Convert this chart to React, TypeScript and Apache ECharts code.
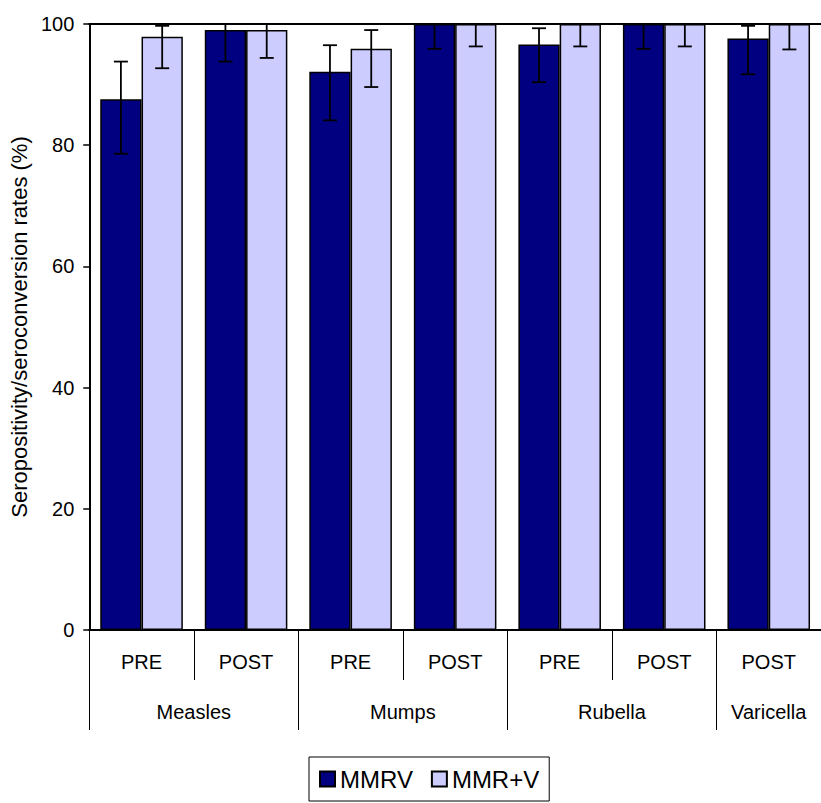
import React, { useEffect, useRef } from "react";
import * as echarts from "echarts";

const phases = ["PRE", "POST", "PRE", "POST", "PRE", "POST", "POST"];
const diseases = ["Measles", "Mumps", "Rubella", "Varicella"];
const diseasePositions = [1, 3, 5, 6.5];
const diseaseBoundaries = [0, 2, 4, 6];

const mmrv = [87.6, 99.0, 92.1, 100, 96.6, 100, 97.6];
const mmrvLow = [78.6, 93.8, 84.1, 95.9, 90.4, 95.9, 91.7];
const mmrvHigh = [93.8, 100, 96.5, 100, 99.3, 100, 99.7];

const mmrV = [97.9, 99.0, 95.9, 100, 100, 100, 100];
const mmrVLow = [92.7, 94.4, 89.6, 96.3, 96.3, 96.3, 95.8];
const mmrVHigh = [99.7, 100, 99.0, 100, 100, 100, 100];

const yTicks = [0, 20, 40, 60, 80, 100];

const FONT = "'Liberation Sans', Arial, sans-serif";

function errorRenderer(offsetFrac: number) {
  return (params: any, api: any) => {
    const x = api.value(0);
    const lo = api.value(1);
    const hi = api.value(2);
    const pLo = api.coord([x, lo]);
    const pHi = api.coord([x, hi]);
    const cw = api.size([1, 0])[0];
    const cx = pLo[0] + offsetFrac * cw;
    const cap = 7;
    const style = { stroke: "#000", lineWidth: 1.8 };
    return {
      type: "group",
      children: [
        { type: "line", shape: { x1: cx, y1: pLo[1], x2: cx, y2: pHi[1] }, style },
        { type: "line", shape: { x1: cx - cap, y1: pLo[1], x2: cx + cap, y2: pLo[1] }, style },
        { type: "line", shape: { x1: cx - cap, y1: pHi[1], x2: cx + cap, y2: pHi[1] }, style },
      ],
    };
  };
}

export default function App() {
  const ref = useRef<HTMLDivElement>(null);
  useEffect(() => {
    if (!ref.current) return;
    const chart = echarts.init(ref.current, null, { renderer: "svg" });
    const option: any = {
      animation: false,
      backgroundColor: "#fff",
      textStyle: { fontFamily: FONT, color: "#000" },
      grid: { left: 88, right: 0, top: 24, bottom: 173 },
      legend: {
        left: 309,
        top: 757,
        orient: "horizontal",
        icon: "rect",
        itemWidth: 15,
        itemHeight: 15,
        itemGap: 18,
        padding: [10, 10, 10, 10],
        borderColor: "#000",
        borderWidth: 1,
        textStyle: { fontSize: 24, color: "#000", fontFamily: FONT },
        data: ["MMRV", "MMR+V"],
      },
      xAxis: [
        {
          type: "category",
          data: phases,
          position: "bottom",
          axisLine: { show: true, lineStyle: { color: "#000", width: 2 } },
          axisTick: { show: true, length: 50, lineStyle: { color: "#000", width: 1 } },
          axisLabel: { fontSize: 20, color: "#000", margin: 22, fontFamily: FONT },
          splitLine: { show: false },
        },
        {
          type: "value",
          min: 0,
          max: 7,
          position: "bottom",
          offset: 0,
          axisLine: { show: false },
          axisTick: {
            show: true,
            length: 100,
            customValues: diseaseBoundaries,
            lineStyle: { color: "#000", width: 1 },
          },
          axisLabel: {
            show: true,
            customValues: diseasePositions,
            fontSize: 20,
            color: "#000",
            margin: 72,
            fontFamily: FONT,
            formatter: (v: number) => {
              const i = diseasePositions.indexOf(v);
              return i >= 0 ? diseases[i] : "";
            },
          },
          splitLine: { show: false },
        },
        {
          type: "category",
          data: phases,
          position: "top",
          axisLine: { show: true, lineStyle: { color: "#000", width: 2 } },
          axisTick: { show: false },
          axisLabel: { show: false },
          splitLine: { show: false },
        },
      ],
      yAxis: {
        type: "value",
        min: yTicks[0],
        max: yTicks[yTicks.length - 1],
        interval: 20,
        name: "Seropositivity/seroconversion rates (%)",
        nameLocation: "middle",
        nameGap: 52,
        nameTextStyle: { fontSize: 22, color: "#000", fontFamily: FONT },
        axisLine: { show: true, lineStyle: { color: "#000", width: 2 } },
        axisTick: { show: true, length: 6, lineStyle: { color: "#000", width: 1.5 } },
        axisLabel: { fontSize: 20, color: "#000", margin: 15, fontFamily: FONT },
        splitLine: { show: false },
      },
      series: [
        {
          name: "MMRV",
          type: "bar",
          xAxisIndex: 0,
          data: mmrv,
          barGap: "0%",
          barCategoryGap: "21%",
          itemStyle: { color: "#000080", borderColor: "#000", borderWidth: 1.5 },
        },
        {
          name: "MMR+V",
          type: "bar",
          xAxisIndex: 0,
          data: mmrV,
          barGap: "0%",
          barCategoryGap: "21%",
          itemStyle: { color: "#CCCCFF", borderColor: "#000", borderWidth: 1.5 },
        },
        {
          type: "custom",
          xAxisIndex: 0,
          renderItem: errorRenderer(-0.1975),
          data: phases.map((_, i) => [i, mmrvLow[i], mmrvHigh[i]]),
          encode: { x: 0, y: [1, 2] },
          z: 10,
          silent: true,
        },
        {
          type: "custom",
          xAxisIndex: 0,
          renderItem: errorRenderer(0.1975),
          data: phases.map((_, i) => [i, mmrVLow[i], mmrVHigh[i]]),
          encode: { x: 0, y: [1, 2] },
          z: 10,
          silent: true,
        },
      ],
    };
    chart.setOption(option);
    return () => chart.dispose();
  }, []);
  return (
    <div
      ref={ref}
      style={{ position: "fixed", left: 0, top: 0, width: 821, height: 803, background: "#fff" }}
    />
  );
}
